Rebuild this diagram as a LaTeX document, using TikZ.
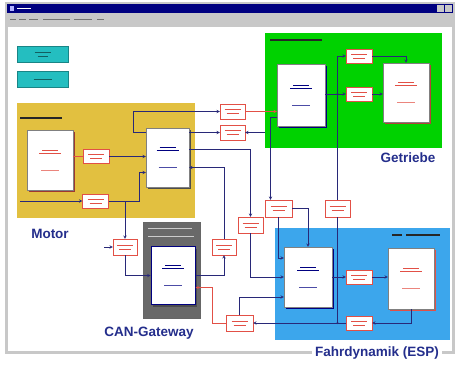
\documentclass[tikz,border=0pt]{standalone}
\usepackage{fontspec}
\setmainfont{Liberation Sans}
\usetikzlibrary{calc,shadows}
\definecolor{mnavy}{RGB}{0,0,128}
\definecolor{wingray}{RGB}{200,200,200}
\definecolor{myellow}{RGB}{226,192,64}
\definecolor{mgreen}{RGB}{0,210,0}
\definecolor{mblue}{RGB}{60,166,236}
\definecolor{mgray}{RGB}{105,105,105}
\definecolor{mteal}{RGB}{36,190,192}
\definecolor{mred}{RGB}{226,80,70}
\definecolor{wirec}{RGB}{40,40,120}
\definecolor{labc}{RGB}{36,46,140}

\tikzset{
  panel/.style={rectangle, inner sep=0pt},
  block/.style={rectangle, draw=black!50, fill=white, inner sep=0pt,
    drop shadow={shadow xshift=2pt, shadow yshift=-2pt, fill=#1, opacity=1}},
  block/.default=black!70,
  sig/.style={rectangle, draw=mred, fill=white, minimum width=26pt, minimum height=14pt, inner sep=0pt},
  wire/.style={draw=wirec, line width=0.5pt},
  rwire/.style={draw=mred, line width=0.5pt},
  scrib/.style={line width=0.7pt},
  biglabel/.style={font=\bfseries\fontsize{13.5}{13.5}\selectfont, text=labc, inner sep=1pt},
}

% illegible text inside the blocks
\newcommand{\blkmarks}[2]{%
  \draw[scrib,#2] ($(#1.center)+(-8,-10)$) -- ++(16,0);
  \draw[scrib,#2] ($(#1.center)+(-11,-7)$) -- ++(22,0);
  \draw[scrib,#2!70,line width=0.5pt] ($(#1.center)+(-9,10)$) -- ++(18,0);
}
\newcommand{\sigmarks}[1]{%
  \draw[mred,line width=0.5pt] ($(#1.center)+(-8,-2)$) -- ++(16,0);
  \draw[mred,line width=0.5pt] ($(#1.center)+(-6,2)$) -- ++(12,0);
}

\begin{document}
\begin{tikzpicture}[x=1pt, y=-1pt, >=stealth]
    \useasboundingbox (0,0) rectangle (460,369);

    % window
    \fill[wingray] (5,2) rectangle (455,354);
    \fill[mnavy] (7,4) rectangle (453,13);
    \fill[blue!30] (10,6) rectangle (14,11);
    \draw[white,scrib] (17,8.5) -- ++(14,0);
    \fill[wingray] (437,5) rectangle (444,12);
    \fill[wingray] (445,5) rectangle (452,12);
    \foreach \a/\b in {10/16, 19/26, 29/38, 43/70, 74/92, 97/104}
        \draw[black!55, line width=0.8pt] (\a,19.5) -- (\b,19.5);
    \fill[white] (8,27) rectangle (452,351);

    % buttons
    \node[panel, fill=mteal, draw=mteal!70!black, minimum width=51pt, minimum height=16pt] (btnA) at (42.5,54) {};
    \node[panel, fill=mteal, draw=mteal!70!black, minimum width=51pt, minimum height=16pt] (btnB) at (42.5,79.5) {};
    \draw[mteal!50!black, line width=0.6pt] ($(btnA.center)+(-8,-2)$) -- ++(16,0) ($(btnA.center)+(-5,2)$) -- ++(10,0);
    \draw[mteal!50!black, line width=0.6pt] ($(btnB.center)+(-9,0)$) -- ++(18,0);

    % panels
    \node[panel, fill=myellow, minimum width=178pt, minimum height=115pt] (motorP) at (106,160.5) {};
    \node[panel, fill=mgreen, minimum width=177pt, minimum height=115pt] (getP) at (353.5,90.5) {};
    \node[panel, fill=mblue, minimum width=175pt, minimum height=112pt] (espP) at (362.5,284) {};
    \node[panel, fill=mgray, draw=black!60, minimum width=57pt, minimum height=96pt] (gwP) at (171.5,270) {};
    \draw[black!85, line width=1.3pt] (20,118) -- (62,118);
    \draw[black!85, line width=1.3pt] (270,40) -- (322,40);
    \draw[black!85, line width=1.3pt] (392,235) -- (402,235) (406,235) -- (440,235);
    \draw[black!20, line width=1pt] (148,228) -- (192,228) (148,236) -- (194,236);

    % blocks
    \node[block=mred!70!black, minimum width=46pt, minimum height=60pt] (motorA) at (50,160) {};
    \node[block, minimum width=43pt, minimum height=59pt] (motorB) at (167.5,157.5) {};
    \node[block, draw=mnavy, line width=1pt, minimum width=44pt, minimum height=58pt] (gwB) at (173,275.5) {};
    \node[block=mnavy, minimum width=48pt, minimum height=62pt] (getA) at (301,95) {};
    \node[block=mred!80!black, minimum width=46pt, minimum height=59pt] (getB) at (406,92.5) {};
    \node[block=mnavy, minimum width=48pt, minimum height=60pt] (espA) at (308,277) {};
    \node[block=mred, minimum width=46pt, minimum height=61pt] (espB) at (411,278.5) {};
    \foreach \n/\c in {motorA/mred, motorB/mnavy, gwB/mnavy, getA/mnavy, getB/mred, espA/mnavy, espB/mred}
        \blkmarks{\n}{\c};

    % signal boxes
    \node[sig] (s1) at (96,156.5) {};
    \node[sig] (s2) at (95.5,201) {};
    \node[sig] (g1) at (359,56) {};
    \node[sig] (g2) at (359,94) {};
    \node[sig] (e1) at (359,277) {};
    \node[sig] (e2) at (359,323) {};
    \node[sig, minimum width=25pt, minimum height=15pt] (m1) at (232.5,111.5) {};
    \node[sig, minimum width=25pt, minimum height=15pt] (m2) at (232.5,132.5) {};
    \node[sig, minimum width=24pt, minimum height=16pt] (c1) at (125,247) {};
    \node[sig, minimum width=24pt, minimum height=16pt] (c2) at (224,247) {};
    \node[sig, minimum width=25pt, minimum height=16pt] (c3) at (250.5,225) {};
    \node[sig, minimum width=27pt, minimum height=17pt] (c4) at (278.5,208.5) {};
    \node[sig, minimum width=25pt, minimum height=17pt] (c5) at (337.5,208.5) {};
    \node[sig, minimum width=27pt, minimum height=16pt] (c6) at (239.5,323) {};
    \foreach \n in {s1,s2,g1,g2,e1,e2,m1,m2,c1,c2,c3,c4,c5,c6}
        \sigmarks{\n};

    \coordinate (inL) at (20,201);
    \coordinate (inC) at (104,247);

    % connectors
    \draw[rwire] (motorA.east |- s1.west) -- (s1.west);
    \draw[wire,->] (s1.east) -- (s1.east -| motorB.west);
    \draw[wire,->] (inL) -- (s2.west);
    \draw[wire,->] (s2.east) -- ++(31,0) |- ($(motorB.west)+(0,15)$);
    \draw[wire,->] (s2.east -| c1.north) -- (c1.north);
    \draw[wire,->] (inC) -- (c1.west);
    \draw[wire,->] (c1.south) |- (gwB.west);
    \draw[wire,->] ($(motorB.west)+(0,-25)$) -- ++(-13,0) |- (m1.west);
    \draw[wire,->] (m2.west -| motorB.east) -- (m2.west);
    \draw[rwire,->] (m1.east) -- (m1.east -| getA.west);
    \draw[wire,->] (m2.east -| getP.west) -- (m2.east);
    \draw[wire,->] ($(motorB.east)+(0,-8)$) -| (c3.north);
    \draw[wire,->] (c3.south) |- (espA.west);
    \draw[wire,->] (c2.north) |- ($(motorB.east)+(0,10)$);
    \draw[wire,->] (gwB.east) -| (c2.south);
    \draw[rwire,->] (c6.west) -- ++(-14,0) |- ($(gwB.east)+(0,12)$);
    \draw[wire,->] ($(getA.west)+(0,22)$) -| ($(c4.north)+(-8,0)$);
    \draw[wire,->] (c4.east) -| (espA.north);
    \draw[wire,->] (c4.south) |- ($(espA.west)+(0,-19)$);
    \draw[wire,->] (c6.north) |- ($(espA.west)+(0,20)$);
    \draw[wire,->] (espA.east |- e1.west) -- (e1.west);
    \draw[wire,->] (e1.east) -- (e1.east -| espB.west);
    \draw[wire,->] (espB.south) |- (e2.east);
    \draw[wire,->] (e2.west) -- (e2.west -| c6.east);
    \draw[wire] (c5.south) -- (c5.south |- e2.west);
    \fill[wirec] (c5.south |- e2.west) circle (1.2);
    \draw[wire,->] (c5.north) |- (g1.west);
    \draw[wire,->] (getA.east |- g2.west) -- (g2.west);
    \fill[wirec] (c5.north |- g2.west) circle (1.2);
    \draw[wire,->] (g1.east) -| (getB.north);
    \draw[wire,->] (g2.east) -- (g2.east -| getB.west);

    % labels
    \node[biglabel] (motorL) at (50,234) {Motor};
    \node[biglabel] (gwL) at (149,333) {CAN-Gateway};
    \node[biglabel] (getL) at (408,158) {Getriebe};
    \node[biglabel, fill=white, inner xsep=3pt] (espL) at (377,353) {Fahrdynamik (ESP)};
\end{tikzpicture}
\end{document}
